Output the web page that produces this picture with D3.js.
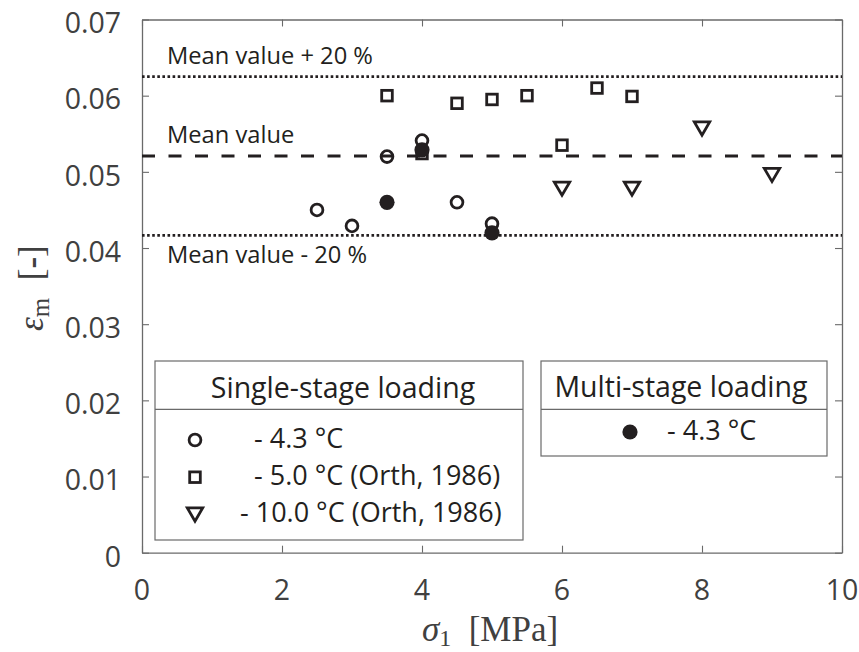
<!DOCTYPE html>
<html>
<head>
<meta charset="utf-8">
<script src="https://cdn.jsdelivr.net/npm/d3@7/dist/d3.min.js"></script>
<style>
  html, body { margin: 0; padding: 0; background: #ffffff; }
  svg { display: block; }
  .tick-label { font-family: "Open Sans", sans-serif; font-size: 28.5px; fill: #404040; }
  .note { font-family: "Open Sans", sans-serif; font-size: 23.7px; fill: #231f20; }
  .leg-head { font-family: "Open Sans", sans-serif; font-size: 28.5px; fill: #231f20; }
  .leg-item { font-family: "Open Sans", sans-serif; font-size: 27px; fill: #231f20; }
  .axis-title { font-family: "Liberation Serif", "DejaVu Serif", serif; font-size: 35px; fill: #404040; }
</style>
</head>
<body>
<div id="chart"></div>
<script>
// Strain at failure vs. major principal stress
const xTicks = [0, 2, 4, 6, 8, 10];
const xTickLabels = ["0", "2", "4", "6", "8", "10"];
const yTicks = [0, 0.01, 0.02, 0.03, 0.04, 0.05, 0.06, 0.07];
const yTickLabels = ["0", "0.01", "0.02", "0.03", "0.04", "0.05", "0.06", "0.07"];

// Single-stage loading, -4.3 °C
const single43X = [2.5, 3.0, 3.5, 4.0, 4.5, 5.0];
const single43Y = [0.0450, 0.0429, 0.0520, 0.0541, 0.0460, 0.0432];
// Single-stage loading, -5.0 °C (Orth, 1986)
const orth50X = [3.5, 4.0, 4.5, 5.0, 5.5, 6.0, 6.5, 7.0];
const orth50Y = [0.0600, 0.0524, 0.0590, 0.0595, 0.0600, 0.0535, 0.0610, 0.0599];
// Single-stage loading, -10.0 °C (Orth, 1986)
const orth100X = [6.0, 7.0, 8.0, 9.0];
const orth100Y = [0.0478, 0.0478, 0.0557, 0.0496];
// Multi-stage loading, -4.3 °C
const multi43X = [3.5, 4.0, 5.0];
const multi43Y = [0.0460, 0.0529, 0.0420];

// Mean value and the ±20 % band
const meanValue = 0.05208;
const bandFactors = [1.2, 0.8];
const noteTexts = ["Mean value + 20 %", "Mean value", "Mean value - 20 %"];

const singleLegendHead = "Single-stage loading";
const singleLegendItems = ["- 4.3 °C", "- 5.0 °C (Orth, 1986)", "- 10.0 °C (Orth, 1986)"];
const multiLegendHead = "Multi-stage loading";
const multiLegendItems = ["- 4.3 °C"];

const W = 859, H = 652;
const plot = { left: 142, right: 842, top: 19.5, bottom: 552.7 };
const ink = "#231f20";
const axisGray = "#6a6a6a";

const svg = d3.select("#chart").append("svg")
  .attr("width", W).attr("height", H)
  .attr("viewBox", `0 0 ${W} ${H}`);

svg.append("rect").attr("width", W).attr("height", H).attr("fill", "#fff");

const x = d3.scaleLinear().domain([0, 10]).range([plot.left, plot.right]);
const y = d3.scaleLinear().domain([0, 0.07]).range([plot.bottom, plot.top]);

// Box axes with inward ticks on all four sides
function styleAxis(g) {
  g.selectAll("path.domain").attr("stroke", axisGray).attr("stroke-width", 1.3);
  g.selectAll(".tick line").attr("stroke", axisGray).attr("stroke-width", 1.1);
  g.selectAll(".tick text").remove();
}
svg.append("g").attr("transform", `translate(0,${plot.bottom})`)
  .call(d3.axisBottom(x).tickValues(xTicks).tickSize(-7).tickSizeOuter(0)).call(styleAxis);
svg.append("g").attr("transform", `translate(0,${plot.top})`)
  .call(d3.axisTop(x).tickValues(xTicks).tickSize(-7).tickSizeOuter(0)).call(styleAxis);
svg.append("g").attr("transform", `translate(${plot.left},0)`)
  .call(d3.axisLeft(y).tickValues(yTicks).tickSize(-7).tickSizeOuter(0)).call(styleAxis);
svg.append("g").attr("transform", `translate(${plot.right},0)`)
  .call(d3.axisRight(y).tickValues(yTicks).tickSize(-7).tickSizeOuter(0)).call(styleAxis);

// Tick labels
svg.append("g").selectAll("text").data(xTicks).join("text")
  .attr("class", "tick-label")
  .attr("x", d => x(d)).attr("y", plot.bottom + 47.5)
  .attr("text-anchor", "middle")
  .text((d, i) => xTickLabels[i]);
svg.append("g").selectAll("text").data(yTicks).join("text")
  .attr("class", "tick-label")
  .attr("x", plot.left - 21).attr("y", d => y(d) + 13.8)
  .attr("text-anchor", "end")
  .text((d, i) => yTickLabels[i]);

// Axis titles
const xt = svg.append("text").attr("class", "axis-title")
  .attr("x", (plot.left + plot.right) / 2 - 2).attr("y", 641)
  .attr("text-anchor", "middle");
xt.append("tspan").attr("font-style", "italic").text("σ");
xt.append("tspan").attr("font-size", "24px").attr("dy", 5).text("1");
xt.append("tspan").attr("dy", -5).text("\u2002[MPa]");

const yt = svg.append("text").attr("class", "axis-title")
  .attr("transform", `translate(43,${(plot.top + plot.bottom) / 2 + 2}) rotate(-90)`)
  .attr("text-anchor", "middle")
  .attr("font-size", "37px");
yt.append("tspan").attr("font-style", "italic").text("ε");
yt.append("tspan").attr("font-size", "25px").attr("dy", 6).text("m");
yt.append("tspan").attr("dy", -6).text("\u2002[");
yt.append("tspan").attr("font-weight", "bold").text("-");
yt.append("tspan").text("]");

// Reference lines: mean (dashed) and ±20 % (dotted)
const refLines = [
  { v: meanValue * bandFactors[0], dash: "2.6,2.5", w: 2.8, note: noteTexts[0], off: -13 },
  { v: meanValue, dash: "13,13.5", w: 3, note: noteTexts[1], off: -12.7 },
  { v: meanValue * bandFactors[1], dash: "2.6,2.5", w: 2.8, note: noteTexts[2], off: 27.6 }
];
svg.append("g").selectAll("line").data(refLines).join("line")
  .attr("x1", plot.left).attr("x2", plot.right)
  .attr("y1", d => y(d.v)).attr("y2", d => y(d.v))
  .attr("stroke", ink).attr("stroke-width", d => d.w)
  .attr("stroke-dasharray", d => d.dash);
svg.append("g").selectAll("text").data(refLines).join("text")
  .attr("class", "note")
  .attr("x", 167).attr("y", d => y(d.v) + d.off)
  .text(d => d.note);

// Marker shapes
const markStroke = 2.8;
function drawMarker(sel, kind) {
  if (kind === "circle") {
    sel.append("circle").attr("r", 5.9).attr("fill", "none")
      .attr("stroke", ink).attr("stroke-width", markStroke);
  } else if (kind === "square") {
    sel.append("rect").attr("x", -5.3).attr("y", -5.3).attr("width", 10.6).attr("height", 10.6)
      .attr("fill", "none").attr("stroke", ink).attr("stroke-width", markStroke);
  } else if (kind === "triangle") {
    sel.append("path").attr("d", "M-7.7,-6.5L7.7,-6.5L0,6.7Z")
      .attr("fill", "none").attr("stroke", ink).attr("stroke-width", markStroke)
      .attr("stroke-linejoin", "miter");
  } else if (kind === "dot") {
    sel.append("circle").attr("r", 7.6).attr("fill", ink);
  }
}

const series = [
  { xs: single43X, ys: single43Y, kind: "circle" },
  { xs: orth50X, ys: orth50Y, kind: "square" },
  { xs: orth100X, ys: orth100Y, kind: "triangle" },
  { xs: multi43X, ys: multi43Y, kind: "dot" }
];
series.forEach(s => {
  const pts = s.xs.map((v, i) => [v, s.ys[i]]);
  svg.append("g").selectAll("g").data(pts).join("g")
    .attr("transform", d => `translate(${x(d[0])},${y(d[1])})`)
    .each(function () { drawMarker(d3.select(this), s.kind); });
});

// Legends
function legendBox(box, head, items) {
  const g = svg.append("g");
  g.append("rect").attr("x", box.x0).attr("y", box.y0)
    .attr("width", box.x1 - box.x0).attr("height", box.y1 - box.y0)
    .attr("fill", "#fff").attr("stroke", axisGray).attr("stroke-width", 1.2);
  g.append("line").attr("x1", box.x0).attr("x2", box.x1)
    .attr("y1", box.sep).attr("y2", box.sep)
    .attr("stroke", axisGray).attr("stroke-width", 1.2);
  g.append("text").attr("class", "leg-head")
    .attr("x", box.headX).attr("y", box.headY).attr("text-anchor", "middle").text(head);
  items.forEach((it, i) => {
    const cy = box.rowY + i * box.rowStep;
    const m = g.append("g").attr("transform", `translate(${box.markX},${cy})`);
    drawMarker(m, it.kind);
    g.append("text").attr("class", "leg-item")
      .attr("x", box.textX + it.dx).attr("y", cy + 7.5).text(it.label);
  });
}
legendBox(
  { x0: 155, y0: 361, x1: 523, y1: 540, sep: 409.3, headX: 343, headY: 398,
    markX: 195, rowY: 440, rowStep: 37.2, textX: 254 },
  singleLegendHead,
  [
    { kind: "circle", label: singleLegendItems[0], dx: 0 },
    { kind: "square", label: singleLegendItems[1], dx: 0 },
    { kind: "triangle", label: singleLegendItems[2], dx: -14 }
  ]
);
legendBox(
  { x0: 541, y0: 361, x1: 827, y1: 456, sep: 409.3, headX: 681, headY: 397,
    markX: 630, rowY: 432, rowStep: 37.2, textX: 667 },
  multiLegendHead,
  [{ kind: "dot", label: multiLegendItems[0], dx: 0 }]
);
</script>
</body>
</html>
